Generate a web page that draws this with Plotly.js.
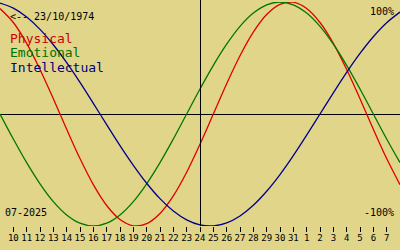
<!DOCTYPE html>
<html>
<head>
<meta charset="utf-8">
<script src="https://cdn.plot.ly/plotly-3.0.1.min.js"></script>
<style>html,body{margin:0;padding:0;background:#E1D58A;}#chart{width:400px;height:250px;}</style>
</head>
<body>
<div id="chart"></div>
<script>
// Day index 0 = 9 July 2025 ... 30 = 8 August 2025
const dayIndex = [0,1,2,3,4,5,6,7,8,9,10,11,12,13,14,15,16,17,18,19,20,21,22,23,24,25,26,27,28,29,30];
const physical = [0.942,0.817,0.631,0.398,0.136,-0.136,-0.398,-0.631,-0.817,-0.942,-0.998,-0.979,-0.888,-0.731,-0.520,-0.270,0,0.270,0.520,0.731,0.888,0.979,0.998,0.942,0.817,0.631,0.398,0.136,-0.136,-0.398,-0.631];
const emotional = [0,-0.223,-0.434,-0.623,-0.782,-0.901,-0.975,-1,-0.975,-0.901,-0.782,-0.623,-0.434,-0.223,0,0.223,0.434,0.623,0.782,0.901,0.975,1,0.975,0.901,0.782,0.623,0.434,0.223,0,-0.223,-0.434];
const intellectual = [0.990,0.945,0.866,0.756,0.618,0.458,0.282,0.095,-0.095,-0.282,-0.458,-0.618,-0.756,-0.866,-0.945,-0.990,-0.999,-0.972,-0.910,-0.815,-0.690,-0.541,-0.372,-0.189,0,0.189,0.372,0.541,0.690,0.815,0.910];
const tickIndex = [1,2,3,4,5,6,7,8,9,10,11,12,13,14,15,16,17,18,19,20,21,22,23,24,25,26,27,28,29];
const tickLabels = ["10","11","12","13","14","15","16","17","18","19","20","21","22","23","24","25","26","27","28","29","30","31","1","2","3","4","5","6","7"];
const todayIndex = 15;
const birthLabel = "<-- 23/10/1974";
const monthLabel = "07-2025";
const seriesNames = ["Physical","Emotional","Intellectual"];

const mono = "DejaVu Sans Mono, monospace";
const bg = "#E1D58A";
const colors = ["#E00000","#007800","#00008C"];

const traces = [physical, emotional, intellectual].map((v,k)=>({
  x: dayIndex, y: v, type: 'scatter', mode: 'lines', name: seriesNames[k],
  line: {color: colors[k], width: 1.3, shape: 'spline'}, hoverinfo: 'skip'
}));

function pyToPaper(py){ return (226 - py) / 224; }
const halfPx = 0.5 / (400 / 30); // keep the 1px marker line on a pixel column

const layout = {
  width: 400, height: 250,
  margin: {l: 0, r: 0, t: 2, b: 24, pad: 0},
  paper_bgcolor: bg, plot_bgcolor: bg,
  showlegend: false,
  xaxis: {range: [0,30], tickvals: tickIndex, ticktext: tickLabels, ticks: 'outside', ticklen: 5, tickwidth: 1, tickcolor: '#000',
    ticklabelstandoff: -2,
    showgrid: false, zeroline: false, showline: false, tickfont: {family: mono, size: 9, color: '#000'}, fixedrange: true},
  yaxis: {range: [-1,1], showticklabels: false, ticks: '', showgrid: false, zeroline: true, zerolinecolor: '#000', zerolinewidth: 1, showline: false, fixedrange: true},
  shapes: [{type: 'line', xref: 'x', yref: 'paper', x0: todayIndex + halfPx, x1: todayIndex + halfPx, y0: 0, y1: 1.02, line: {color: '#000', width: 1}}],
  annotations: [
    {text: birthLabel, xref: 'paper', yref: 'paper', x: 8/400, y: pyToPaper(17), xanchor: 'left', yanchor: 'middle', showarrow: false, font: {family: mono, size: 10, color: '#000'}},
    {text: seriesNames[0], xref: 'paper', yref: 'paper', x: 8/400, y: pyToPaper(38), xanchor: 'left', yanchor: 'middle', showarrow: false, font: {family: mono, size: 13, color: '#D00000'}},
    {text: seriesNames[1], xref: 'paper', yref: 'paper', x: 8/400, y: pyToPaper(53), xanchor: 'left', yanchor: 'middle', showarrow: false, font: {family: mono, size: 13, color: '#007000'}},
    {text: seriesNames[2], xref: 'paper', yref: 'paper', x: 8/400, y: pyToPaper(68), xanchor: 'left', yanchor: 'middle', showarrow: false, font: {family: mono, size: 13, color: '#000080'}},
    {text: monthLabel, xref: 'paper', yref: 'paper', x: 3/400, y: pyToPaper(212), xanchor: 'left', yanchor: 'middle', showarrow: false, font: {family: mono, size: 10, color: '#000'}},
    {text: "100%", xref: 'paper', yref: 'paper', x: 396/400, y: pyToPaper(12), xanchor: 'right', yanchor: 'middle', showarrow: false, font: {family: mono, size: 10, color: '#000'}},
    {text: "-100%", xref: 'paper', yref: 'paper', x: 396/400, y: pyToPaper(212), xanchor: 'right', yanchor: 'middle', showarrow: false, font: {family: mono, size: 10, color: '#000'}}
  ]
};

Plotly.newPlot('chart', traces, layout, {displayModeBar: false, staticPlot: true});
</script>
</body>
</html>
